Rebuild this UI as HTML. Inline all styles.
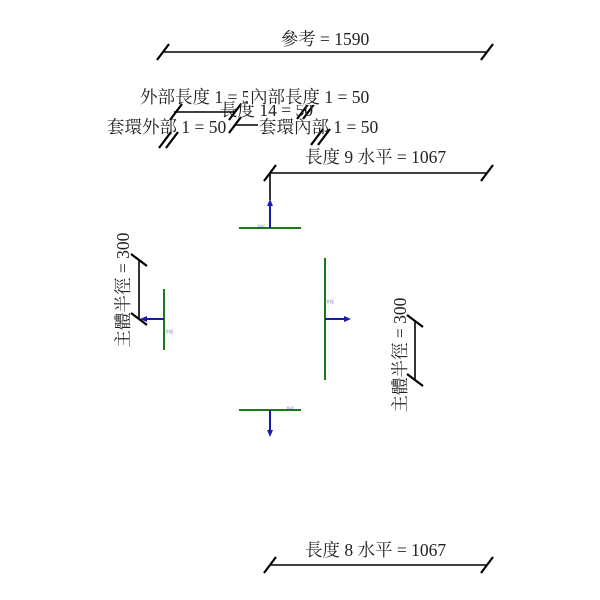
<!DOCTYPE html>
<html><head><meta charset="utf-8"><style>
html,body{margin:0;padding:0;background:#fff;width:600px;height:600px;overflow:hidden}
svg{display:block}
text{font-family:"Liberation Serif","Noto Serif CJK SC","Noto Sans CJK TC",serif;fill:#222}
.t{font-size:17.5px}
.s{font-size:4px;fill:#33a}
</style></head><body>
<svg width="600" height="600" viewBox="0 0 600 600" xmlns="http://www.w3.org/2000/svg">
<defs>
<g id="tk"><line x1="-6" y1="8" x2="6" y2="-8" stroke="#000" stroke-width="2.2"/></g>
<g id="tkv"><line x1="-8" y1="-6" x2="8" y2="6" stroke="#000" stroke-width="2.2"/></g>
</defs>
<g stroke="#000" stroke-width="1.6" fill="none">
<line x1="163" y1="52" x2="487" y2="52"/>
<line x1="174" y1="112" x2="235" y2="112"/>
<line x1="234" y1="125" x2="258" y2="125"/>
<line x1="270" y1="173" x2="487" y2="173"/>
<line x1="270" y1="173" x2="270" y2="200"/>
<line x1="139" y1="259" x2="139" y2="319"/>
<line x1="415" y1="320" x2="415" y2="380"/>
<line x1="270" y1="565" x2="487" y2="565"/>
</g>
<use href="#tk" x="163" y="52"/><use href="#tk" x="487" y="52"/>
<use href="#tk" x="176" y="112"/><use href="#tk" x="235" y="112"/>
<use href="#tk" x="235" y="125"/>
<use href="#tk" x="303" y="111"/><use href="#tk" x="309" y="111"/>
<use href="#tk" x="165" y="140"/><use href="#tk" x="172" y="140"/>
<use href="#tk" x="317" y="137"/><use href="#tk" x="324" y="137"/>
<use href="#tk" x="270" y="173"/><use href="#tk" x="487" y="173"/>
<use href="#tkv" x="139" y="260"/><use href="#tkv" x="139" y="319"/>
<use href="#tkv" x="415" y="321"/><use href="#tkv" x="415" y="380"/>
<use href="#tk" x="270" y="565"/><use href="#tk" x="487" y="565"/>
<g stroke="#1a7a1a" stroke-width="2">
<line x1="239" y1="228" x2="301" y2="228"/>
<line x1="164" y1="289" x2="164" y2="350"/>
<line x1="325" y1="258" x2="325" y2="380"/>
<line x1="239" y1="410" x2="301" y2="410"/>
</g>
<g stroke="#1a1ab0" stroke-width="2">
<line x1="270" y1="228" x2="270" y2="203"/>
<line x1="164" y1="319" x2="143" y2="319"/>
<line x1="325" y1="319" x2="347" y2="319"/>
<line x1="270" y1="410" x2="270" y2="432"/>
</g>
<g fill="#1a1ab0">
<polygon points="270,199 267,206 273,206"/>
<polygon points="140,319 147,316 147,322"/>
<polygon points="351,319 344,316 344,322"/>
<polygon points="270,437 267,430 273,430"/>
</g>
<text class="s" x="257" y="228">半徑</text>
<text class="s" x="165" y="333">半徑</text>
<text class="s" x="326" y="303">半徑</text>
<text class="s" x="286" y="410">半徑</text>
<text class="t" x="325" y="45" text-anchor="middle">參考 = 1590</text>
<text class="t" x="140" y="103">外部長度 1 = 50</text>
<text class="t" x="220" y="116">長度 14 = 50</text>
<rect x="248" y="88" width="125" height="17" fill="#fff"/>
<text class="t" x="250" y="103">內部長度 1 = 50</text>
<text class="t" x="107" y="133">套環外部 1 = 50</text>
<text class="t" x="259" y="133">套環內部 1 = 50</text>
<text class="t" x="305" y="163">長度 9 水平 = 1067</text>
<text class="t" x="305" y="556">長度 8 水平 = 1067</text>
<text class="t" transform="translate(129,290) rotate(-90)" text-anchor="middle">主體半徑 = 300</text>
<text class="t" transform="translate(406,355) rotate(-90)" text-anchor="middle">主體半徑 = 300</text>
</svg>
</body></html>
